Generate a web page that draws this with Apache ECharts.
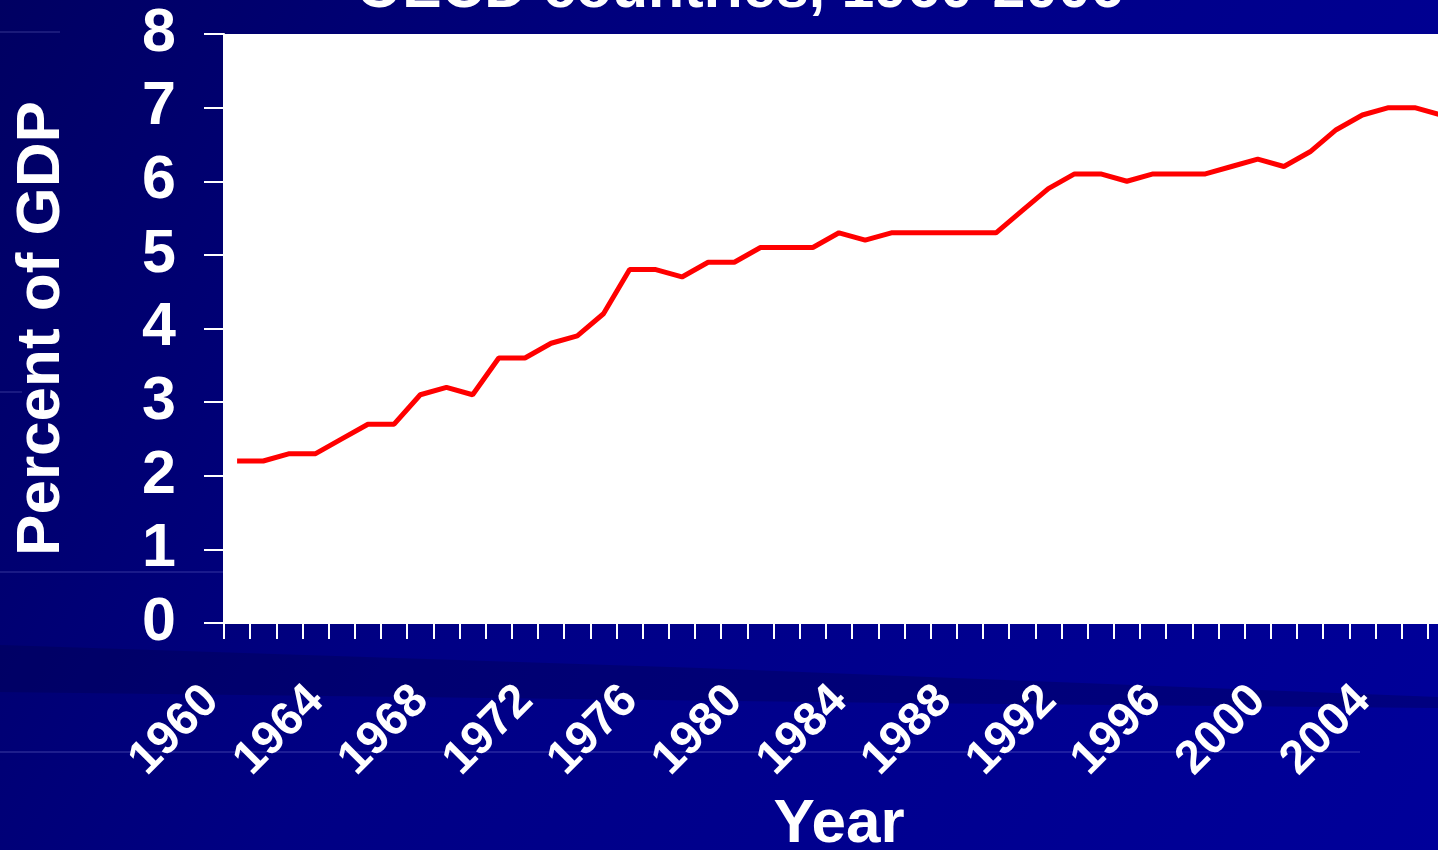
<!DOCTYPE html>
<html>
<head>
<meta charset="utf-8">
<style>
html,body{margin:0;padding:0;background:#00008a;overflow:hidden;}
#chart{width:1438px;height:850px;}
</style>
<script src="https://cdn.jsdelivr.net/npm/echarts@6/dist/echarts.min.js"></script>
</head>
<body>
<div id="chart"></div>
<script>
// ---- data ----
const years = ['1960','1961','1962','1963','1964','1965','1966','1967','1968','1969',
  '1970','1971','1972','1973','1974','1975','1976','1977','1978','1979',
  '1980','1981','1982','1983','1984','1985','1986','1987','1988','1989',
  '1990','1991','1992','1993','1994','1995','1996','1997','1998','1999',
  '2000','2001','2002','2003','2004','2005','2006'];
const percentOfGDP = [2.2,2.2,2.3,2.3,2.5,2.7,2.7,3.1,3.2,3.1,
  3.6,3.6,3.8,3.9,4.2,4.8,4.8,4.7,4.9,4.9,
  5.1,5.1,5.1,5.3,5.2,5.3,5.3,5.3,5.3,5.3,
  5.6,5.9,6.1,6.1,6.0,6.1,6.1,6.1,6.2,6.3,
  6.2,6.4,6.7,6.9,7.0,7.0,6.9];
const yTickMin = 0, yTickMax = 8, yTickStep = 1;
const titleText = 'OECD countries, 1960-2006';
const yName = 'Percent of GDP';
const xName = 'Year';

const FONT = '"Liberation Sans", Arial, sans-serif';
const chart = echarts.init(document.getElementById('chart'));

chart.setOption({
  backgroundColor: '#00008a',
  animation: false,
  graphic: [
    { type: 'rect', z: -10, silent: true,
      shape: { x: 0, y: 0, width: 1438, height: 850 },
      style: { fill: new echarts.graphic.LinearGradient(0, 0, 1, 1, [
        { offset: 0, color: '#000062' },
        { offset: 0.4, color: '#000084' },
        { offset: 1, color: '#00009a' }
      ]) } },
    { type: 'polygon', z: -9, silent: true,
      shape: { points: [[0,645],[700,668],[1438,697],[1438,708],[900,703],[0,692]] },
      style: { fill: 'rgba(0,0,70,0.3)' } },
    { type: 'line', z: -8, silent: true, shape: { x1: 0, y1: 752, x2: 1360, y2: 752 },
      style: { stroke: 'rgba(150,150,230,0.4)', lineWidth: 1 } },
    { type: 'line', z: -8, silent: true, shape: { x1: 0, y1: 572, x2: 224, y2: 572 },
      style: { stroke: 'rgba(150,150,230,0.35)', lineWidth: 1 } },
    { type: 'line', z: -8, silent: true, shape: { x1: 0, y1: 32, x2: 60, y2: 32 },
      style: { stroke: 'rgba(150,150,230,0.35)', lineWidth: 1 } },
    { type: 'line', z: -8, silent: true, shape: { x1: 0, y1: 392, x2: 22, y2: 392 },
      style: { stroke: 'rgba(150,150,230,0.35)', lineWidth: 1 } },
    { type: 'text', z: 10, x: 740, y: -9, silent: true,
      style: { text: titleText, font: 'bold 59px ' + FONT, fill: '#ffffff',
        textAlign: 'center', textVerticalAlign: 'middle',
        shadowColor: 'rgba(0,0,0,0.7)', shadowOffsetX: 2, shadowOffsetY: 2, shadowBlur: 0 } }
  ],
  grid: {
    left: 224, top: 34, right: -16, bottom: 227,
    show: true, backgroundColor: '#ffffff', borderWidth: 0,
    containLabel: false, outerBoundsMode: 'none'
  },
  xAxis: {
    type: 'category',
    data: years,
    boundaryGap: true,
    name: xName,
    nameLocation: 'middle',
    nameGap: 171,
    nameTextStyle: { color: '#fff', fontSize: 62, fontWeight: 'bold', fontFamily: FONT },
    axisLine: { show: true, lineStyle: { color: '#fff', width: 2 } },
    axisTick: { show: true, interval: 0, length: 16, inside: false, lineStyle: { color: '#fff', width: 2 } },
    axisLabel: {
      interval: 3, rotate: 45, margin: 45, padding: [0, 36, 0, 0],
      color: '#fff', fontSize: 47, fontWeight: 'bold', fontFamily: FONT,
      hideOverlap: false
    },
    splitLine: { show: false }
  },
  yAxis: {
    type: 'value',
    min: yTickMin, max: yTickMax, interval: yTickStep,
    name: yName,
    nameLocation: 'middle',
    nameGap: 151,
    nameTextStyle: { color: '#fff', fontSize: 62, fontWeight: 'bold', fontFamily: FONT },
    axisLine: { show: true, lineStyle: { color: '#fff', width: 2 } },
    axisTick: { show: true, length: 20, inside: false, lineStyle: { color: '#fff', width: 2 } },
    axisLabel: { margin: 48, color: '#fff', fontSize: 61, fontWeight: 'bold', fontFamily: FONT },
    splitLine: { show: false }
  },
  series: [{
    type: 'line',
    data: percentOfGDP,
    symbol: 'none',
    lineStyle: { color: '#ff0000', width: 5 },
    itemStyle: { color: '#ff0000' },
    z: 5
  }]
});
</script>
</body>
</html>
